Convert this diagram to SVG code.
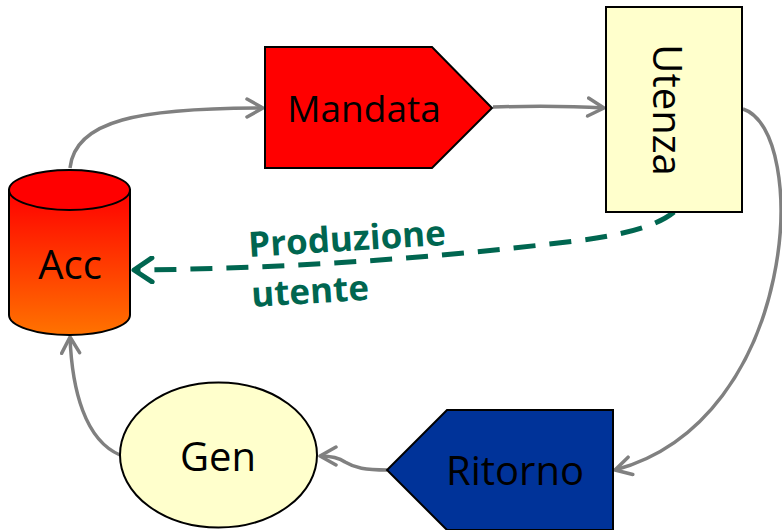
<svg xmlns="http://www.w3.org/2000/svg" width="782" height="530" viewBox="0 0 782 530">
<defs>
  <linearGradient id="accGrad" x1="0" y1="0" x2="0" y2="1">
    <stop offset="0" stop-color="#FF0000"/>
    <stop offset="1" stop-color="#FF7300"/>
  </linearGradient>
  <marker id="arrGray" viewBox="0 0 20 22" refX="18" refY="11" markerWidth="20" markerHeight="22" markerUnits="userSpaceOnUse" orient="auto">
    <path d="M2,2 L18,11 L2,20" fill="none" stroke="#808080" stroke-width="3.5" stroke-linecap="round" stroke-linejoin="round"/>
  </marker>
  <marker id="arrGreen" viewBox="0 0 24 28" refX="21" refY="14" markerWidth="24" markerHeight="28" markerUnits="userSpaceOnUse" orient="auto">
    <path d="M3,2 L21,14 L3,26" fill="none" stroke="#006650" stroke-width="5" stroke-linecap="round" stroke-linejoin="round"/>
  </marker>
  <style>
    .lbl { font-family: "Open Sans", "Liberation Sans", sans-serif; font-size: 40px; fill: #000; text-anchor: middle; }
    .edge { fill: none; stroke: #808080; stroke-width: 3.5; marker-end: url(#arrGray); }
    .shape { stroke: #000; stroke-width: 2; }
    .green { font-family: "Open Sans", "Liberation Sans", sans-serif; font-weight: bold; font-size: 35px; fill: #006650; }
  </style>
</defs>
<g id="connectors">
  <path class="edge" d="M70,168 C 75,120 140,108 263,108"/>
  <path class="edge" d="M493,107 C 530,106 570,106 604,108"/>
  <path class="edge" d="M743,109 C 810,130 800,420 615,470"/>
  <path class="edge" d="M387,470 C 365,470 355,468 345,462 C 338,457 330,456 320,456"/>
  <path class="edge" d="M120,455 C 85,440 72,390 70,337"/>
  <path d="M674,212 Q 650,232 575,241 Q 354,268 134,270" fill="none" stroke="#006650" stroke-width="5" stroke-dasharray="22 14" marker-end="url(#arrGreen)"/>
  <text class="green" x="249" y="257" transform="rotate(-3.5 249 257)">Produzione</text>
  <text class="green" x="252" y="307" transform="rotate(-3.5 252 307)">utente</text>
</g>
<g id="acc">
  <path class="shape" d="M9,190 L9,315 A60.5,20 0 0 0 130,315 L130,190 Z" fill="url(#accGrad)"/>
  <ellipse class="shape" cx="69.5" cy="190" rx="60.5" ry="20" fill="#FF0000"/>
  <text class="lbl" x="70" y="279">Acc</text>
</g>
<g id="mandata">
  <path class="shape" d="M265,47 L432,47 L492,108 L432,168 L265,168 Z" fill="#FF0000"/>
  <text class="lbl" x="364" y="122" style="font-size:37px">Mandata</text>
</g>
<g id="utenza">
  <rect class="shape" x="606" y="7" width="136" height="205" fill="#FFFFCC"/>
  <text class="lbl" transform="translate(653,110) rotate(90)" x="0" y="0">Utenza</text>
</g>
<g id="ritorno">
  <path class="shape" d="M613,410 L447,410 L387,470 L447,530 L613,530 Z" fill="#003399"/>
  <text class="lbl" x="515" y="485">Ritorno</text>
</g>
<g id="gen">
  <ellipse class="shape" cx="218.5" cy="455" rx="98.5" ry="72.5" fill="#FFFFCC"/>
  <text class="lbl" x="218" y="471">Gen</text>
</g>
</svg>
